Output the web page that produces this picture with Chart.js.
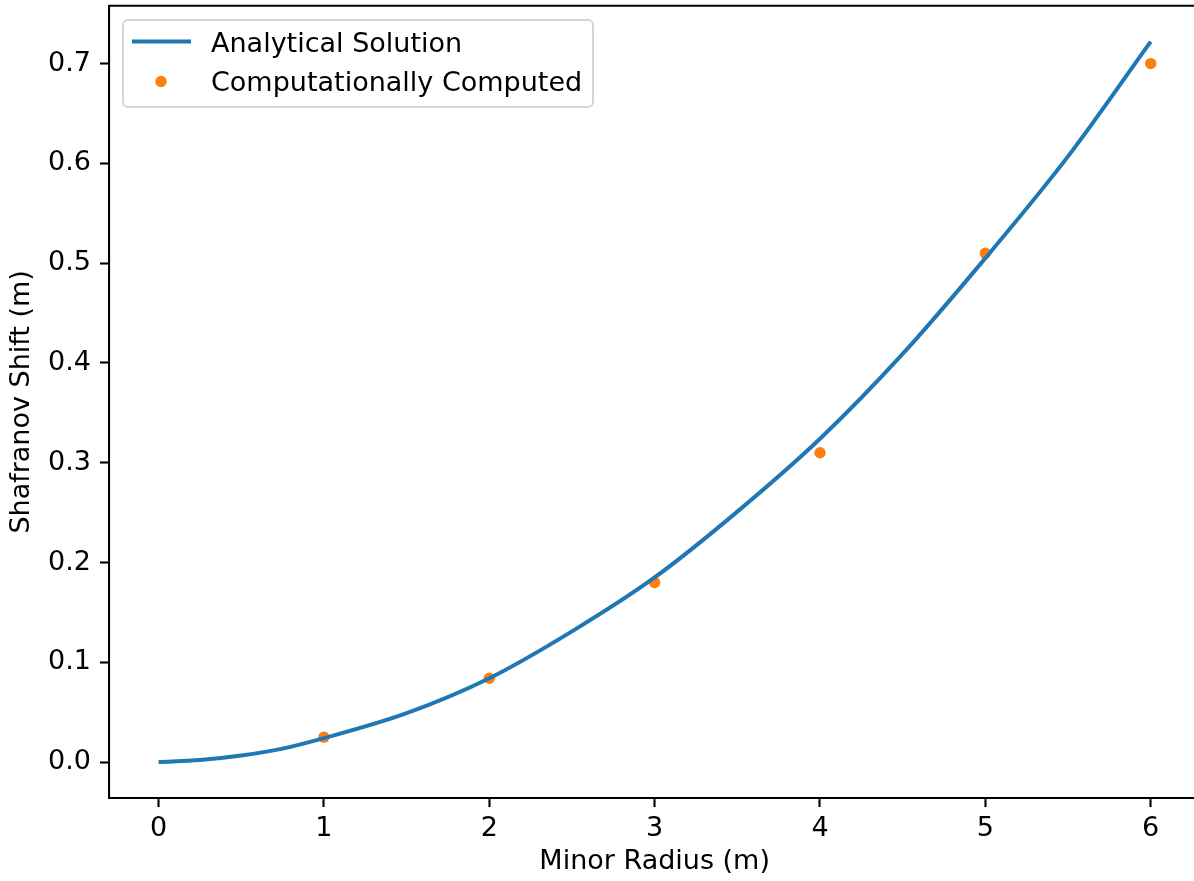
<!DOCTYPE html>
<html>
<head>
<meta charset="utf-8">
<script src="https://cdn.jsdelivr.net/npm/chart.js@4.4.1/dist/chart.umd.min.js"></script>
<style>
  html, body { margin: 0; padding: 0; background: #fff; overflow: hidden; }
  #wrap { width: 1194px; height: 881px; overflow: hidden; }
</style>
</head>
<body>
<div id="wrap"><canvas id="shiftChart" width="1206" height="881"></canvas></div>
<script>
// values
const radiusLine = [0, 0.25, 0.5, 0.75, 1, 1.5, 2, 2.5, 3, 3.5, 4, 4.5, 5, 5.5, 6];
const analyticalShift = [0, 0.002, 0.0065, 0.0135, 0.024, 0.049, 0.084, 0.131, 0.185, 0.251, 0.324, 0.409, 0.505, 0.607, 0.722];
const radiusPoints = [1, 2, 3, 4, 5, 6];
const computedShift = [0.025, 0.084, 0.18, 0.31, 0.51, 0.70];
const xTicks = [0, 1, 2, 3, 4, 5, 6];
const yTicks = [0, 0.1, 0.2, 0.3, 0.4, 0.5, 0.6, 0.7];

const FONT = "'DejaVu Sans', sans-serif";
const FSIZE = 27;
const BLUE = "#1f77b4";
const ORANGE = "#ff7f0e";

// top/right spines + legend box
const framePlugin = {
    id: "frame",
    afterDatasetsDraw(chart) {
        const { ctx, chartArea: a } = chart;
        ctx.save();
        ctx.strokeStyle = "#000";
        ctx.lineWidth = 2.1;
        ctx.beginPath();
        ctx.moveTo(a.left, a.top);
        ctx.lineTo(a.right, a.top);
        ctx.lineTo(a.right, a.bottom);
        ctx.stroke();

        // legend
        const x = 123, y = 20, w = 470, h = 87, r = 5;
        ctx.beginPath();
        ctx.moveTo(x + r, y);
        ctx.arcTo(x + w, y, x + w, y + h, r);
        ctx.arcTo(x + w, y + h, x, y + h, r);
        ctx.arcTo(x, y + h, x, y, r);
        ctx.arcTo(x, y, x + w, y, r);
        ctx.closePath();
        ctx.fillStyle = "rgba(255,255,255,0.8)";
        ctx.fill();
        ctx.strokeStyle = "#d5d5d5";
        ctx.lineWidth = 2;
        ctx.stroke();

        const ds = chart.data.datasets;
        ctx.strokeStyle = BLUE;
        ctx.lineWidth = 4;
        ctx.beginPath();
        ctx.moveTo(132, 41.5);
        ctx.lineTo(191, 41.5);
        ctx.stroke();

        ctx.fillStyle = ORANGE;
        ctx.beginPath();
        ctx.arc(161, 81.5, 5.7, 0, Math.PI * 2);
        ctx.fill();

        ctx.fillStyle = "#000";
        ctx.font = FSIZE + "px " + FONT;
        ctx.textBaseline = "alphabetic";
        ctx.textAlign = "left";
        ctx.fillText(ds[0].label, 211, 51.5);
        ctx.fillText(ds[1].label, 211, 91);
        ctx.restore();
    }
};

const ctx = document.getElementById("shiftChart").getContext("2d");

new Chart(ctx, {
    type: "scatter",
    data: {
        datasets: [{
            label: "Analytical Solution",
            data: radiusLine.map((r, i) => ({ x: r, y: analyticalShift[i] })),
            showLine: true,
            borderColor: BLUE,
            borderWidth: 4,
            pointRadius: 0,
            cubicInterpolationMode: "monotone",
            fill: false
        }, {
            label: "Computationally Computed",
            data: radiusPoints.map((r, i) => ({ x: r, y: computedShift[i] })),
            showLine: false,
            backgroundColor: ORANGE,
            borderWidth: 0,
            pointRadius: 5.7
        }]
    },
    options: {
        responsive: false,
        animation: false,
        layout: { padding: { top: 5.5, right: 0, left: 0, bottom: 0 } },
        plugins: {
            legend: { display: false },
            tooltip: { enabled: false }
        },
        scales: {
            x: {
                type: "linear",
                min: -0.3,
                max: 6.3,
                afterBuildTicks: s => { s.ticks = xTicks.map(v => ({ value: v })); },
                afterFit: s => { s.height = 83; s.paddingLeft = 0; s.paddingRight = 0; },
                grid: { drawOnChartArea: false, drawTicks: true, tickLength: 9, tickColor: "#000", tickWidth: 2.1 },
                border: { display: true, color: "#000", width: 2.1 },
                ticks: {
                    color: "#000",
                    font: { family: FONT, size: FSIZE },
                    padding: 6,
                    maxRotation: 0,
                    callback: v => String(v)
                },
                title: {
                    display: true,
                    text: "Minor Radius (m)",
                    color: "#000",
                    font: { family: FONT, size: FSIZE },
                    padding: { top: 0, bottom: 3 }
                }
            },
            y: {
                type: "linear",
                min: -0.036,
                max: 0.758,
                afterBuildTicks: s => { s.ticks = yTicks.map(v => ({ value: v })); },
                afterFit: s => { s.width = 109; s.paddingTop = 0; s.paddingBottom = 0; },
                grid: { drawOnChartArea: false, drawTicks: true, tickLength: 9, tickColor: "#000", tickWidth: 2.1 },
                border: { display: true, color: "#000", width: 2.1 },
                ticks: {
                    color: "#000",
                    font: { family: FONT, size: FSIZE },
                    padding: 9,
                    callback: v => v.toFixed(1)
                },
                title: {
                    display: true,
                    text: "Shafranov Shift (m)",
                    color: "#000",
                    font: { family: FONT, size: FSIZE },
                    padding: { top: 6, bottom: 0 }
                }
            }
        }
    },
    plugins: [framePlugin]
});
</script>
</body>
</html>
